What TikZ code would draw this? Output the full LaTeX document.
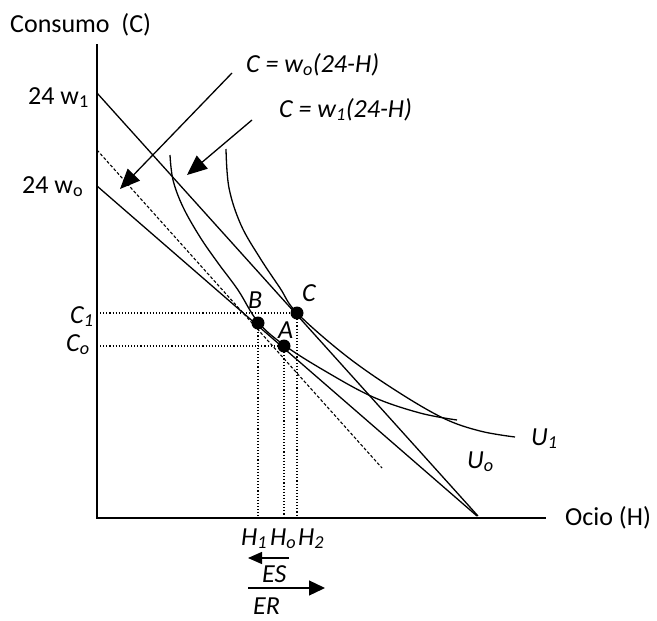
\documentclass[tikz,border=0pt]{standalone}
\usepackage{fontspec}
\setmainfont{Carlito}
\usetikzlibrary{arrows.meta}
\begin{document}
\begin{tikzpicture}[x=1pt,y=-1pt,
  lbl/.style={anchor=base west, inner sep=0pt, font=\fontsize{26}{30}\selectfont},
  ilbl/.style={anchor=base west, inner sep=0pt, font=\fontsize{26}{30}\selectfont\itshape},
  solidline/.style={line width=1.3pt},
  guide/.style={dotted, line width=1.1pt},
  dashline/.style={dash pattern=on 3pt off 2pt, line width=1.1pt},
  dot/.style={circle, fill=black, inner sep=0pt, minimum size=13pt},
  bigarrow/.style={line width=1.3pt, -{Triangle[length=20pt,width=17pt]}},
  smallarrow/.style={line width=1.3pt, -{Triangle[length=14pt,width=12pt]}},
  smallarrowb/.style={line width=1.3pt, -{Triangle[length=16pt,width=15pt]}},
]
\useasboundingbox (0,0) rectangle (657,621);

% axes
\coordinate (Ytop) at (97,44);
\coordinate (O) at (97,518);
\coordinate (Xend) at (546,518);
\draw[solidline] (Ytop) -- (O) -- (Xend);

% budget lines
\coordinate (w1a) at (97,93);
\coordinate (w1b) at (478,516);
\coordinate (w0a) at (97,186);
\coordinate (w0b) at (477,516);
\coordinate (da) at (97,150);
\coordinate (db) at (382,468);
\draw[solidline] (w1a) -- (w1b);
\draw[solidline] (w0a) -- (w0b);
\draw[dashline] (da) -- (db);

% indifference curves
\draw[solidline] plot[smooth, tension=0.6] coordinates {(170,155) (173,180) (183,207) (200,237) (218,263) (238,290) (258,322) (284,345) (325,371) (373,397) (420,413) (457,420)};
\draw[solidline] plot[smooth, tension=0.6] coordinates {(226,149) (229,188) (241,225) (260,258) (280,288) (297,313) (345,355) (395,390) (443,418) (480,431) (515,437)};

% points
\node[dot] (B) at (258,323) {};
\node[dot] (A) at (284,346) {};
\node[dot] (C) at (297,313) {};

% guide lines
\coordinate (yC1) at (97,313);
\coordinate (yC0) at (97,346);
\coordinate (xH1) at (258,518);
\coordinate (xH0) at (284,518);
\coordinate (xH2) at (297,518);
\draw[guide] (yC1) -- (C.center);
\draw[guide] (yC0) -- (A.center);
\draw[guide] (B.center) -- (xH1);
\draw[guide] (A.center) -- (xH0);
\draw[guide] (C.center) -- (xH2);

% labels
\node[lbl] (ylab) at (10,32) {Consumo\ \ (C)};
\node[lbl] (xlab) at (565,525) {Ocio (H)};
\node[lbl] (w1lab) at (28,104) {24 w\textsubscript{1}};
\node[lbl] (w0lab) at (22,193) {24 w\textsubscript{o}};
\node[ilbl] (eq0) at (246,72) {C = w\textsubscript{o}(24-H)};
\node[ilbl] (eq1) at (279,117) {C = w\textsubscript{1}(24-H)};
\node[ilbl] (C1lab) at (70,323) {C\textsubscript{1}};
\node[ilbl] (C0lab) at (66,351) {C\textsubscript{o}};
\node[ilbl] (Blab) at (248,308) {B};
\node[ilbl] (Clab) at (302,301) {C};
\node[ilbl] (Alab) at (278,338) {A};
\node[ilbl] (H1lab) at (241,545) {H\textsubscript{1}};
\node[ilbl] (H0lab) at (270,545) {H\textsubscript{o}};
\node[ilbl] (H2lab) at (298,545) {H\textsubscript{2}};
\node[ilbl] (ESlab) at (262,582) {ES};
\node[ilbl] (ERlab) at (253,614) {ER};
\node[ilbl] (U1lab) at (531,445) {U\textsubscript{1}};
\node[ilbl] (U0lab) at (467,468) {U\textsubscript{o}};

% pointer arrows
\coordinate (p0s) at (232,73);
\coordinate (p0e) at (120,189);
\coordinate (p1s) at (252,120);
\coordinate (p1e) at (187,175);
\draw[bigarrow] (p0s) -- (p0e);
\draw[bigarrow] (p1s) -- (p1e);

% effect arrows
\coordinate (ESs) at (289,558);
\coordinate (ESe) at (248,558);
\coordinate (ERs) at (248,588);
\coordinate (ERe) at (325,588);
\draw[smallarrow] (ESs) -- (ESe);
\draw[smallarrowb] (ERs) -- (ERe);
\end{tikzpicture}
\end{document}
